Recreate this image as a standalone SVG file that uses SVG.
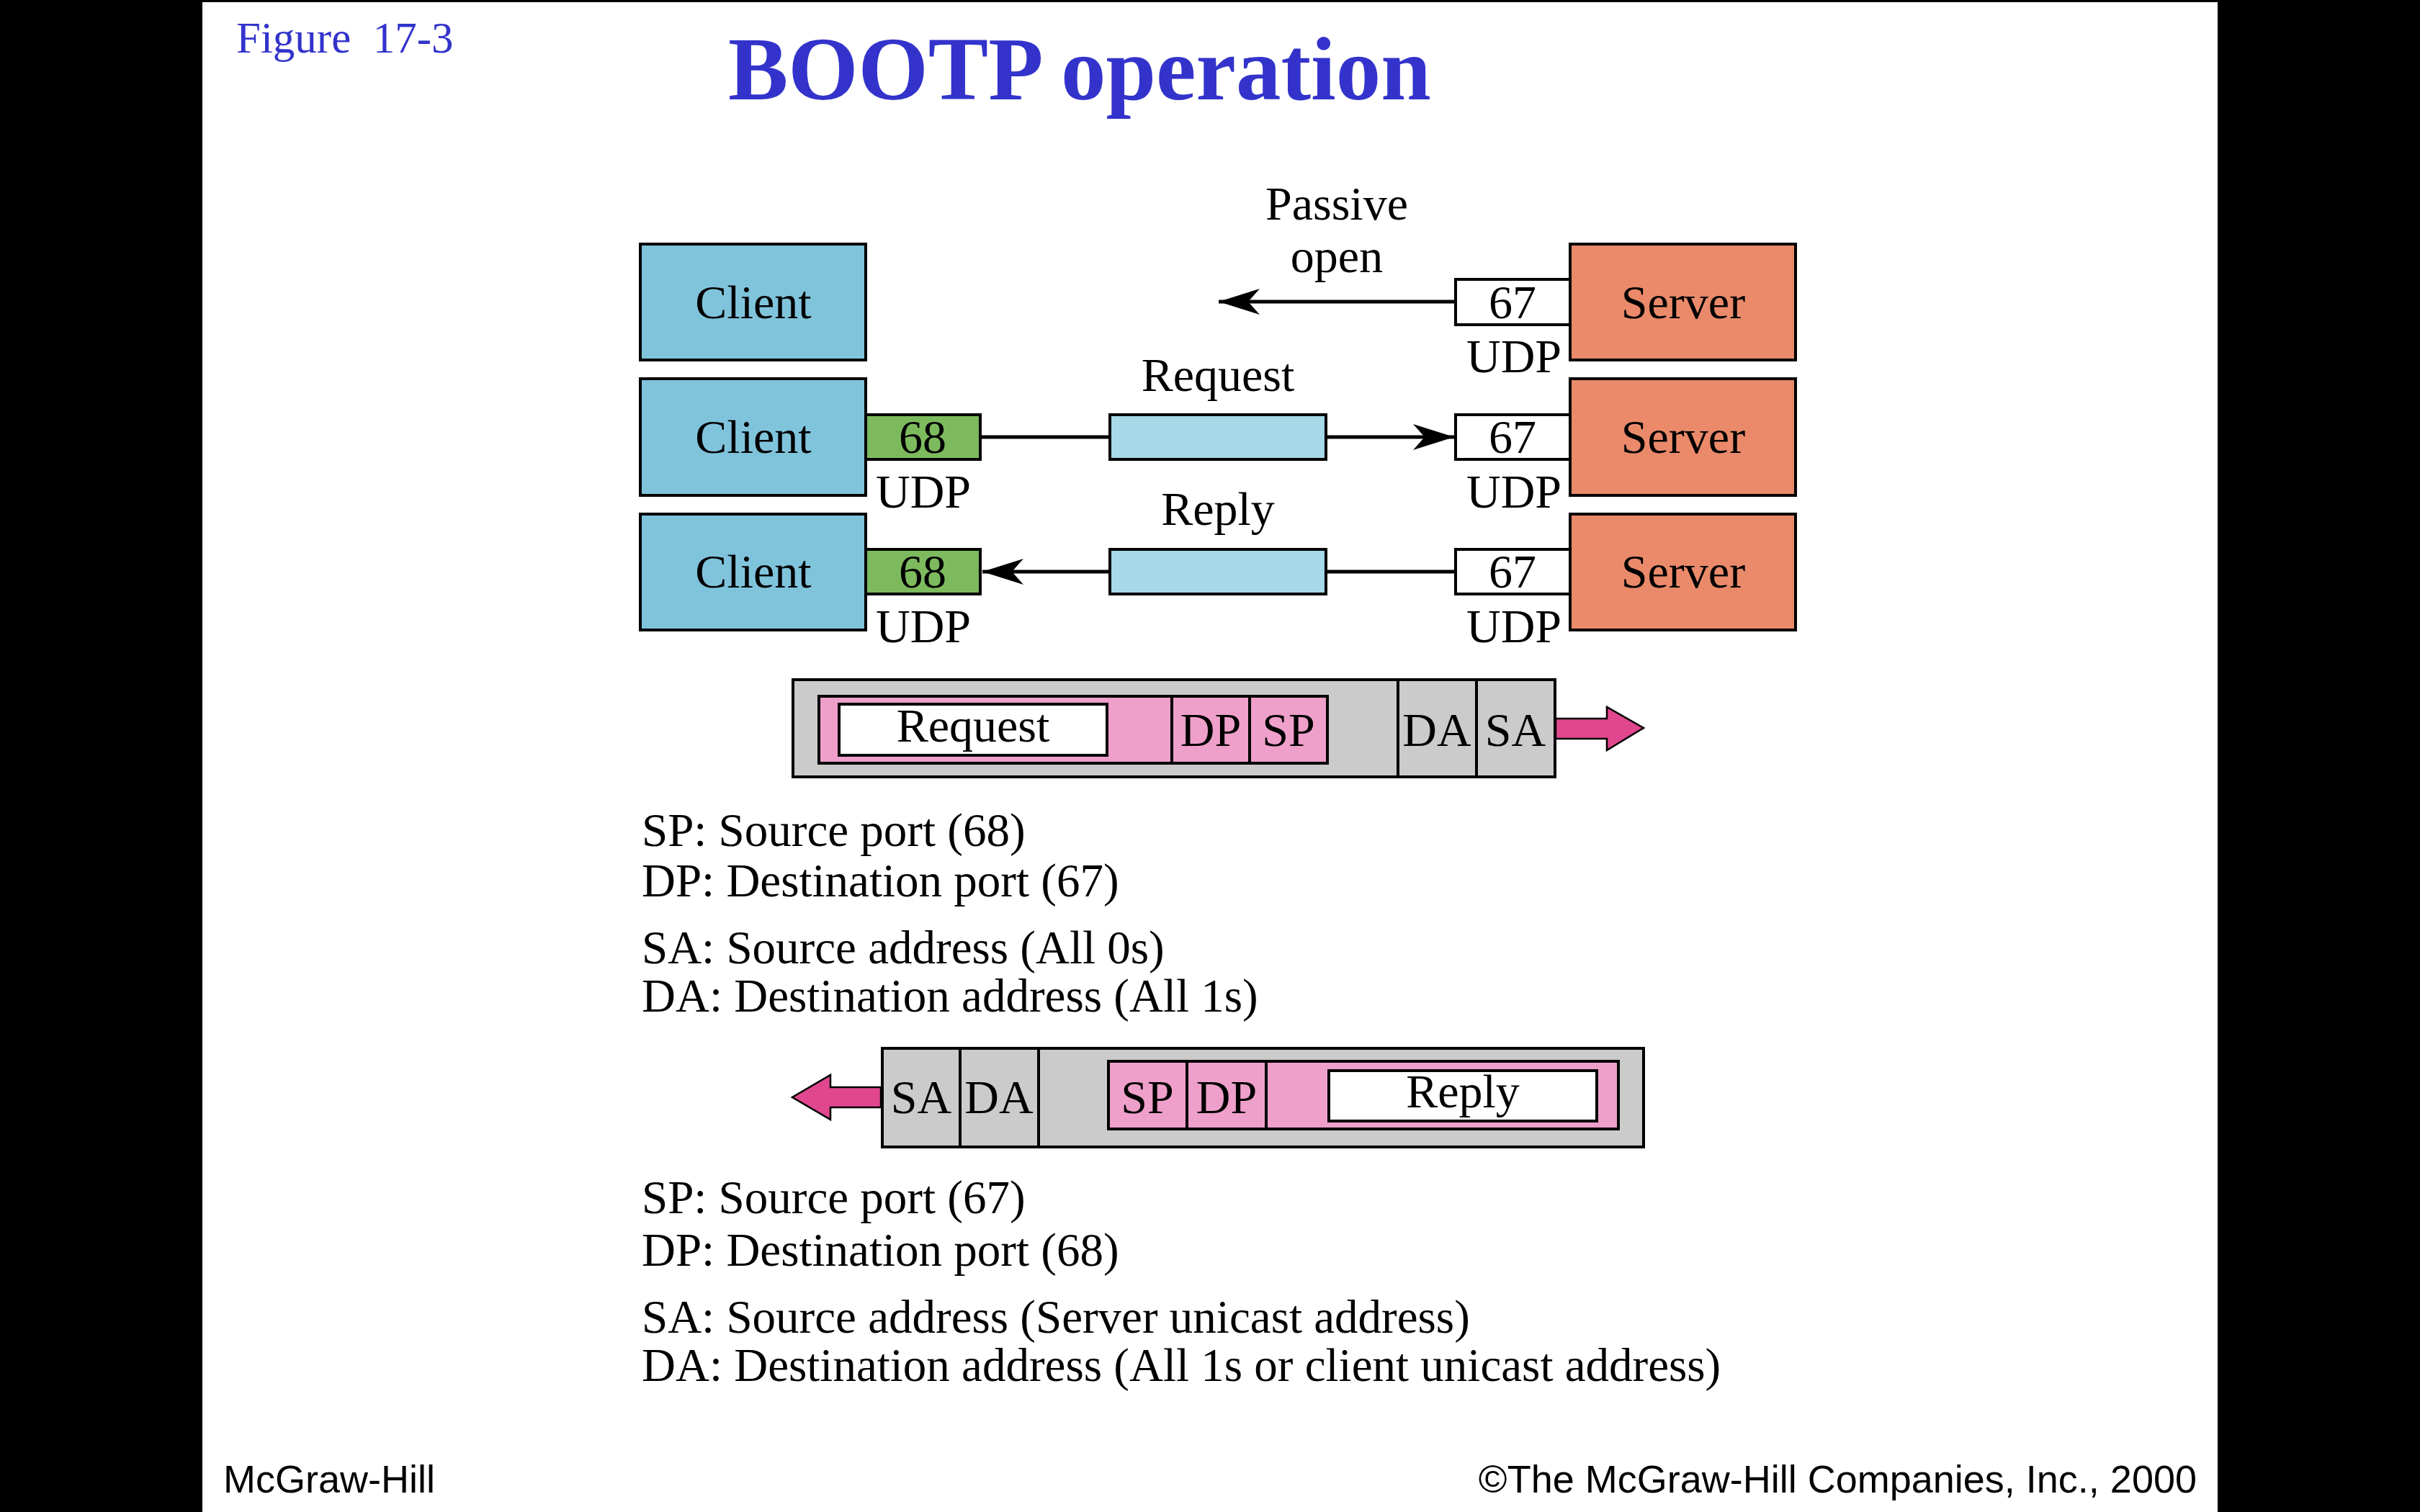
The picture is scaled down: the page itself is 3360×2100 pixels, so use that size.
<svg xmlns="http://www.w3.org/2000/svg" width="3360" height="2100" viewBox="0 0 3360 2100">
<defs>
<style>
.t{font-family:"Liberation Serif","Times New Roman",serif;fill:#000;font-size:66px}
.lg{font-size:65px}
.c{text-anchor:middle}
.box{stroke:#000;stroke-width:4}
.client{fill:#80c4dc}
.server{fill:#ea8a6a}
.port{fill:#ffffff}
.green{fill:#7dba5e}
.msg{fill:#a7d9e8}
.gray{fill:#cbcbcb}
.pink{fill:#eea0ca}
.wh{fill:#ffffff}
.conn{stroke:#000;stroke-width:5;fill:none}
.big{fill:#e0478f;stroke:#000;stroke-width:2.5}
.blue{font-family:"Liberation Serif","Times New Roman",serif;fill:#3333cc}
.foot{font-family:"Liberation Sans",Arial,sans-serif;font-size:54px;fill:#000}
</style>
<marker id="ah" viewBox="-58 -19 59 38" markerWidth="59" markerHeight="38" refX="0" refY="0" orient="auto" markerUnits="userSpaceOnUse">
<path d="M0,0 L-57,-18 L-41,0 L-57,18 Z" fill="#000"/>
</marker>
</defs>
<rect x="0" y="0" width="3360" height="2100" fill="#ffffff"/>
<rect x="0" y="0" width="281" height="2100" fill="#000"/>
<rect x="3079" y="0" width="281" height="2100" fill="#000"/>
<rect x="281" y="0" width="2798" height="3" fill="#000"/>

<g id="header">
<text class="blue" x="328" y="73" font-size="61" xml:space="preserve">Figure  17-3</text>
<text class="blue" x="1011" y="138" font-size="125" font-weight="bold">BOOTP operation</text>
</g>

<g id="connectors">
<line class="conn" x1="2021" y1="419" x2="1692" y2="419" marker-end="url(#ah)"/>
<line class="conn" x1="1362" y1="607" x2="1541" y2="607"/>
<line class="conn" x1="1841" y1="607" x2="2019" y2="607" marker-end="url(#ah)"/>
<line class="conn" x1="2021" y1="794" x2="1841" y2="794"/>
<line class="conn" x1="1541" y1="794" x2="1364" y2="794" marker-end="url(#ah)"/>
</g>

<g id="row1">
<g id="client1"><rect class="box client" x="889" y="339" width="313" height="161"/><text class="t c" x="1046" y="442">Client</text></g>
<g id="server1"><rect class="box server" x="2180" y="339" width="313" height="161"/><text class="t c" x="2337" y="442">Server</text></g>
<g id="port67a"><rect class="box port" x="2021" y="388" width="159" height="63"/><text class="t c" x="2100" y="442">67</text><text class="t c" x="2102" y="517">UDP</text></g>
<text class="t c" x="1856" y="305">Passive</text>
<text class="t c" x="1856" y="378">open</text>
</g>

<g id="row2">
<g id="client2"><rect class="box client" x="889" y="526" width="313" height="162"/><text class="t c" x="1046" y="629">Client</text></g>
<g id="server2"><rect class="box server" x="2180" y="526" width="313" height="162"/><text class="t c" x="2337" y="629">Server</text></g>
<g id="port68a"><rect class="box green" x="1202" y="576" width="159" height="62"/><text class="t c" x="1281" y="629">68</text><text class="t c" x="1282" y="705">UDP</text></g>
<g id="port67b"><rect class="box port" x="2021" y="576" width="159" height="62"/><text class="t c" x="2100" y="629">67</text><text class="t c" x="2102" y="705">UDP</text></g>
<g id="request"><rect class="box msg" x="1541" y="576" width="300" height="62"/><text class="t c" x="1691" y="543">Request</text></g>
</g>

<g id="row3">
<g id="client3"><rect class="box client" x="889" y="714" width="313" height="161"/><text class="t c" x="1046" y="816">Client</text></g>
<g id="server3"><rect class="box server" x="2180" y="714" width="313" height="161"/><text class="t c" x="2337" y="816">Server</text></g>
<g id="port68b"><rect class="box green" x="1202" y="763" width="159" height="62"/><text class="t c" x="1281" y="816">68</text><text class="t c" x="1282" y="892">UDP</text></g>
<g id="port67c"><rect class="box port" x="2021" y="763" width="159" height="62"/><text class="t c" x="2100" y="816">67</text><text class="t c" x="2102" y="892">UDP</text></g>
<g id="reply"><rect class="box msg" x="1541" y="763" width="300" height="62"/><text class="t c" x="1691" y="729">Reply</text></g>
</g>

<g id="frame1">
<rect class="box gray" x="1101" y="944" width="1058" height="135"/>
<rect class="box pink" x="1137" y="967" width="706" height="93"/>
<rect class="box wh" x="1165" y="978" width="372" height="71"/>
<line class="box" x1="1627" y1="967" x2="1627" y2="1060"/>
<line class="box" x1="1735" y1="967" x2="1735" y2="1060"/>
<line class="box" x1="1941" y1="944" x2="1941" y2="1079"/>
<line class="box" x1="2050" y1="944" x2="2050" y2="1079"/>
<text class="t c" x="1351" y="1030">Request</text>
<text class="t c" x="1681" y="1036">DP</text>
<text class="t c" x="1789" y="1036">SP</text>
<text class="t c" x="1995" y="1036">DA</text>
<text class="t c" x="2104" y="1036">SA</text>
<path class="big" d="M2160,998 L2231,998 L2231,982 L2282,1011 L2231,1042 L2231,1026 L2160,1026 Z"/>
</g>

<g id="legend1">
<text class="t lg" x="891" y="1175">SP: Source port (68)</text>
<text class="t lg" x="891" y="1245">DP: Destination port (67)</text>
<text class="t lg" x="891" y="1338">SA: Source address (All 0s)</text>
<text class="t lg" x="891" y="1405">DA: Destination address (All 1s)</text>
</g>

<g id="frame2">
<rect class="box gray" x="1225" y="1456" width="1057" height="137"/>
<rect class="box pink" x="1539" y="1474" width="708" height="94"/>
<rect class="box wh" x="1845" y="1487" width="372" height="70"/>
<line class="box" x1="1333" y1="1456" x2="1333" y2="1593"/>
<line class="box" x1="1442" y1="1456" x2="1442" y2="1593"/>
<line class="box" x1="1648" y1="1474" x2="1648" y2="1568"/>
<line class="box" x1="1758" y1="1474" x2="1758" y2="1568"/>
<text class="t c" x="2031" y="1538">Reply</text>
<text class="t c" x="1593" y="1546">SP</text>
<text class="t c" x="1703" y="1546">DP</text>
<text class="t c" x="1279" y="1546">SA</text>
<text class="t c" x="1387" y="1546">DA</text>
<path class="big" d="M1223,1510 L1153,1510 L1153,1493 L1100,1524 L1153,1555 L1153,1538 L1223,1538 Z"/>
</g>

<g id="legend2">
<text class="t lg" x="891" y="1685">SP: Source port (67)</text>
<text class="t lg" x="891" y="1758">DP: Destination port (68)</text>
<text class="t lg" x="891" y="1851">SA: Source address (Server unicast address)</text>
<text class="t lg" x="891" y="1918">DA: Destination address (All 1s or client unicast address)</text>
</g>

<g id="footer">
<text class="foot" x="310" y="2073">McGraw-Hill</text>
<text class="foot" x="3050" y="2073" text-anchor="end">©The McGraw-Hill Companies, Inc., 2000</text>
</g>
</svg>
